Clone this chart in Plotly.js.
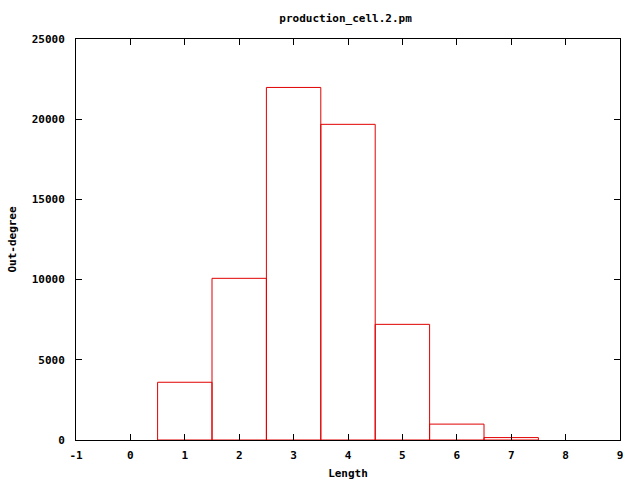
<!DOCTYPE html>
<html>
<head>
<meta charset="utf-8">
<script src="https://cdn.plot.ly/plotly-3.0.1.min.js"></script>
<style>html,body{margin:0;padding:0;background:#fff;}</style>
</head>
<body>
<div id="chart" style="width:640px;height:480px;"></div>
<script>
const lengths = [1, 2, 3, 4, 5, 6, 7];
const outDegree = [3600, 10080, 21980, 19680, 7210, 990, 150];
const xTicks = [-1, 0, 1, 2, 3, 4, 5, 6, 7, 8, 9];
const yTicks = [0, 5000, 10000, 15000, 20000, 25000];

const font = {family: "DejaVu Sans Mono, monospace", size: 11, color: "#000"};

Plotly.newPlot("chart", [{
  type: "bar",
  x: lengths,
  y: outDegree,
  width: 1,
  marker: {color: "rgba(0,0,0,0)", line: {color: "#e00000", width: 1}},
  hoverinfo: "skip"
}], {
  width: 640, height: 480,
  margin: {l: 76, r: 20, t: 39, b: 40},
  paper_bgcolor: "#fff", plot_bgcolor: "#fff",
  font: font,
  showlegend: false,
  title: {text: "<b>production_cell.2.pm</b>", x: 0.54, xanchor: "center", y: 0.962, yanchor: "middle", font: font},
  xaxis: {
    range: [-1, 9], tickvals: xTicks, ticktext: xTicks.map(v => "<b>" + v + "</b>"),
    ticks: "inside", ticklen: 6, tickcolor: "#000", tickwidth: 1,
    showline: true, linecolor: "#000", linewidth: 1, mirror: "ticks",
    showgrid: false, zeroline: false, ticklabelstandoff: 5,
    title: {text: "<b>Length</b>", font: font, standoff: 8}
  },
  yaxis: {
    range: [0, 25000], tickvals: yTicks, ticktext: yTicks.map(v => "<b>" + v + "</b>"),
    ticks: "inside", ticklen: 6, tickcolor: "#000", tickwidth: 1,
    showline: true, linecolor: "#000", linewidth: 1, mirror: "ticks",
    showgrid: false, zeroline: false, ticklabelstandoff: 8,
    title: {text: "<b>Out-degree</b>", font: font, standoff: 12}
  },
  bargap: 0
}, {staticPlot: true, displayModeBar: false});
</script>
</body>
</html>
